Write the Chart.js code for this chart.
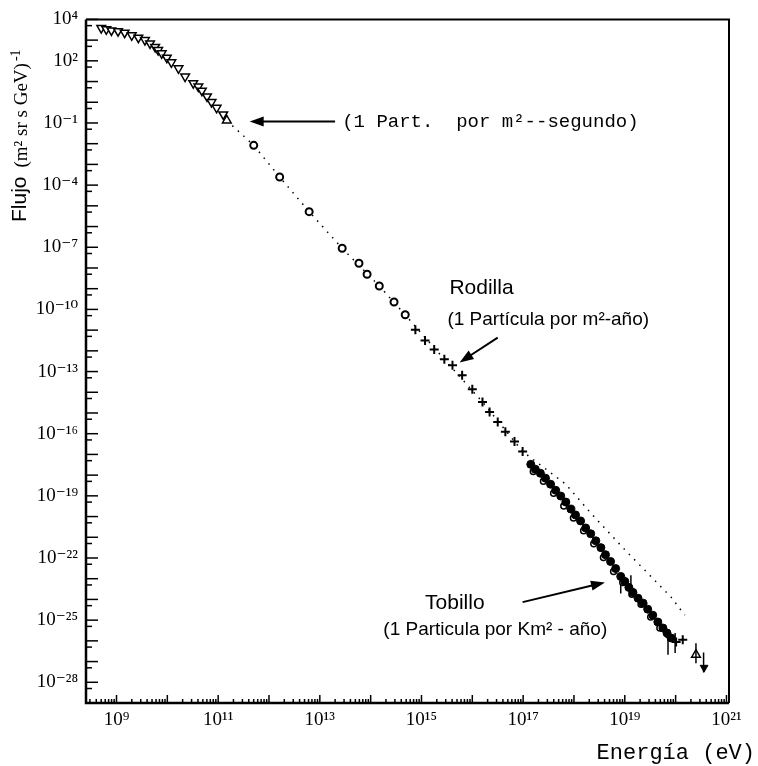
<!DOCTYPE html>
<html>
<head>
<meta charset="utf-8">
<script src="https://cdn.jsdelivr.net/npm/chart.js@4.4.0/dist/chart.umd.min.js"></script>
<style>
  html, body { margin: 0; padding: 0; background: #fff; }
  #wrap { width: 758px; height: 766px; }
</style>
</head>
<body>
<div id="wrap"><canvas id="espectro" width="758" height="766"></canvas></div>
<script>
// Valores, en log10: energia (eV) y flujo
const triLogE = [8.70, 8.80, 8.90, 9.03, 9.16, 9.30, 9.43, 9.56, 9.66, 9.76, 9.82, 9.89,
                 9.99, 10.08, 10.22, 10.35, 10.51, 10.61, 10.68, 10.78, 10.87, 10.97, 11.10, 11.17];
const triLogF = [3.58, 3.52, 3.47, 3.43, 3.36, 3.23, 3.12, 3.00, 2.84, 2.67, 2.52, 2.36,
                 2.15, 1.93, 1.64, 1.24, 0.92, 0.76, 0.56, 0.28, 0.01, -0.27, -0.59, -0.88];

const circLogE = [11.70, 12.21, 12.79, 13.44, 13.77, 13.93, 14.17, 14.46, 14.68];
const circLogF = [-2.08, -3.61, -5.28, -7.05, -7.77, -8.30, -8.87, -9.64, -10.26];

const cruzLogE = [14.88, 15.07, 15.25, 15.45, 15.61, 15.80, 16.00, 16.20, 16.34, 16.50, 16.65, 16.83, 16.99];
const cruzLogF = [-10.98, -11.50, -11.93, -12.41, -12.70, -13.18, -13.85, -14.47, -14.95, -15.43, -15.90, -16.38, -16.86];

// banda densa de altas energias
const bandaLogE = [17.15, 17.24, 17.34, 17.44, 17.54, 17.64, 17.74, 17.84, 17.94, 18.03,
                   18.13, 18.23, 18.33, 18.43, 18.53, 18.62, 18.72, 18.82, 18.92, 19.00,
                   19.08, 19.16, 19.26, 19.36, 19.45, 19.55, 19.65, 19.75, 19.83, 19.91];
const bandaLogF = [-17.48, -17.72, -17.91, -18.15, -18.44, -18.73, -19.01, -19.30, -19.64, -19.92,
                   -20.21, -20.55, -20.83, -21.17, -21.50, -21.84, -22.17, -22.51, -22.89, -23.13,
                   -23.42, -23.66, -23.94, -24.18, -24.47, -24.76, -25.09, -25.38, -25.62, -25.86];
const abiertoLogE = [17.20, 17.40, 17.60, 17.80, 17.99, 18.19, 18.39, 18.58, 18.78, 18.96, 19.14, 19.32, 19.51, 19.69];
const abiertoLogF = [-17.82, -18.30, -18.87, -19.49, -20.07, -20.69, -21.31, -21.98, -22.65, -23.18, -23.75, -24.23, -24.85, -25.38];

const finLogE = [19.89, 20.01, 20.14];
const finLogF = [-25.81, -26.05, -25.95];

// barras de error
const errLogE = [18.92, 19.12, 19.85, 19.99, 20.40, 20.55];
const errLogF = [-23.23, -23.32, -26.19, -26.10, -26.60, -27.05];

const altoLogE = [20.40];
const altoLogF = [-26.67];
const limiteLogE = [20.56];
const limiteLogF = [-27.29];

// linea punteada
const ajusteLogE = [11.17, 11.70, 12.21, 12.79, 13.44, 14.17, 14.68, 15.45, 16.20, 16.99, 17.84, 18.33, 19.00, 19.91, 20.18];
const ajusteLogF = [-0.88, -2.08, -3.61, -5.28, -7.05, -8.87, -10.26, -12.41, -14.47, -16.86, -18.44, -19.83, -21.60, -23.89, -24.76];

// etiquetas de los ejes (exponentes)
const xEtiquetas = [9, 11, 13, 15, 17, 19, 21];
const yEtiquetas = [4, 2, -1, -4, -7, -10, -13, -16, -19, -22, -25, -28];
const xRango = [8.4, 21.05];
const yRango = [-29, 4];

const SUP = { '0': '⁰', '1': '¹', '2': '²', '3': '³', '4': '⁴', '5': '⁵', '6': '⁶', '7': '⁷', '8': '⁸', '9': '⁹', '-': '⁻' };
function potencia(e) {
    return '10' + String(e).split('').map(c => SUP[c]).join('');
}

function puntos(es, fs) {
    return es.map((e, i) => ({ x: Math.pow(10, e), y: Math.pow(10, fs[i]) }));
}

function esDecada(v) {
    const l = Math.log10(v);
    return Math.abs(l - Math.round(l)) < 1e-6;
}

// marcas de los ejes hacia dentro + marco
const marco = {
    id: 'marco',
    afterDraw(chart) {
        const { ctx, chartArea: a, scales: { x, y } } = chart;
        ctx.save();
        ctx.strokeStyle = '#000';
        ctx.lineWidth = 1.5;
        x.ticks.forEach(t => {
            const p = x.getPixelForValue(t.value);
            const largo = esDecada(t.value) ? 8 : 4;
            ctx.beginPath();
            ctx.moveTo(p, a.bottom);
            ctx.lineTo(p, a.bottom - largo);
            ctx.stroke();
        });
        y.ticks.forEach(t => {
            const p = y.getPixelForValue(t.value);
            const largo = esDecada(t.value) ? 12 : 6;
            ctx.beginPath();
            ctx.moveTo(a.left, p);
            ctx.lineTo(a.left + largo, p);
            ctx.stroke();
        });
        ctx.lineWidth = 2.5;
        ctx.beginPath();
        ctx.moveTo(a.left, a.top);
        ctx.lineTo(a.left, a.bottom);
        ctx.lineTo(a.right, a.bottom);
        ctx.stroke();
        ctx.lineWidth = 2;
        ctx.beginPath();
        ctx.moveTo(a.left, a.top);
        ctx.lineTo(a.right, a.top);
        ctx.lineTo(a.right, a.bottom);
        ctx.stroke();
        ctx.restore();
    }
};

function flecha(ctx, x1, y1, x2, y2) {
    const ang = Math.atan2(y2 - y1, x2 - x1);
    ctx.beginPath();
    ctx.moveTo(x1, y1);
    ctx.lineTo(x2 - 10 * Math.cos(ang), y2 - 10 * Math.sin(ang));
    ctx.stroke();
    ctx.beginPath();
    ctx.moveTo(x2, y2);
    ctx.lineTo(x2 - 14 * Math.cos(ang) + 5 * Math.sin(ang), y2 - 14 * Math.sin(ang) - 5 * Math.cos(ang));
    ctx.lineTo(x2 - 14 * Math.cos(ang) - 5 * Math.sin(ang), y2 - 14 * Math.sin(ang) + 5 * Math.cos(ang));
    ctx.closePath();
    ctx.fill();
}

// textos, flechas y titulos
const anotaciones = {
    id: 'anotaciones',
    afterDraw(chart) {
        const { ctx, scales: { x, y } } = chart;
        const px = e => x.getPixelForValue(Math.pow(10, e));
        const py = f => y.getPixelForValue(Math.pow(10, f));
        ctx.save();
        ctx.fillStyle = '#000';
        ctx.strokeStyle = '#000';
        ctx.lineWidth = 2;
        ctx.textBaseline = 'middle';
        ctx.textAlign = 'left';

        flecha(ctx, px(13.30), py(-0.93), px(11.62), py(-0.93));
        ctx.font = '19px "Liberation Mono", "DejaVu Sans Mono", monospace';
        ctx.fillText('(1 Part.  por m²--segundo)', px(13.44), py(-0.93));

        ctx.font = '21px "Liberation Sans", Arial, sans-serif';
        ctx.fillText('Rodilla', px(15.55), py(-8.97));
        ctx.font = '19px "Liberation Sans", Arial, sans-serif';
        ctx.fillText('(1 Partícula por m²-año)', px(15.51), py(-10.50));
        flecha(ctx, px(16.50), py(-11.36), px(15.75), py(-12.56));

        ctx.font = '21px "Liberation Sans", Arial, sans-serif';
        ctx.fillText('Tobillo', px(15.07), py(-24.18));
        ctx.font = '19px "Liberation Sans", Arial, sans-serif';
        ctx.fillText('(1 Particula por Km² - año)', px(14.25), py(-25.47));
        flecha(ctx, px(16.99), py(-24.13), px(18.61), py(-23.18));

        // titulo eje x
        ctx.font = '22px "Liberation Mono", "DejaVu Sans Mono", monospace';
        ctx.textAlign = 'right';
        ctx.fillText('Energía (eV)', 755, 753);

        // titulo eje y
        ctx.translate(20, 222);
        ctx.rotate(-Math.PI / 2);
        ctx.textAlign = 'left';
        ctx.font = '21px "Liberation Sans", Arial, sans-serif';
        ctx.fillText('Flujo', 0, 0);
        let w = ctx.measureText('Flujo').width + 9;
        ctx.font = '19px "Liberation Serif", "DejaVu Serif", serif';
        ctx.fillText('(m² sr s GeV)', w, 2);
        w += ctx.measureText('(m² sr s GeV)').width + 2;
        ctx.font = '14px "Liberation Serif", "DejaVu Serif", serif';
        ctx.fillText('-1', w, -4);
        ctx.restore();
    }
};

const datasets = [
    {
        label: 'Ajuste',
        data: puntos(ajusteLogE, ajusteLogF),
        showLine: true,
        borderColor: '#000',
        borderWidth: 1.5,
        borderDash: [1.5, 6],
        pointRadius: 0,
        order: 10
    },
    {
        label: 'Medidas directas',
        data: puntos(triLogE, triLogF),
        pointStyle: 'triangle',
        rotation: ctx => ctx.dataIndex === triLogE.length - 1 ? 0 : 180,
        pointRadius: 5,
        borderWidth: 1.5,
        borderColor: '#000',
        backgroundColor: '#fff'
    },
    {
        label: 'Circulos',
        data: puntos(circLogE, circLogF),
        pointStyle: 'circle',
        pointRadius: 3.5,
        borderWidth: 2,
        borderColor: '#000',
        backgroundColor: '#fff'
    },
    {
        label: 'Cruces',
        data: puntos(cruzLogE, cruzLogF).concat(puntos(finLogE, finLogF)),
        pointStyle: 'cross',
        pointRadius: 4.5,
        borderWidth: 2,
        borderColor: '#000'
    },
    {
        label: 'Banda',
        data: puntos(bandaLogE, bandaLogF),
        pointStyle: 'circle',
        pointRadius: 4,
        borderWidth: 1,
        borderColor: '#000',
        backgroundColor: '#000'
    },
    {
        label: 'Banda abiertos',
        data: puntos(abiertoLogE, abiertoLogF),
        pointStyle: 'circle',
        pointRadius: 3,
        borderWidth: 1.5,
        borderColor: '#000',
        backgroundColor: '#fff'
    },
    {
        label: 'Errores',
        data: puntos(errLogE, errLogF),
        pointStyle: 'line',
        rotation: 90,
        pointRadius: 10,
        borderWidth: 1.5,
        borderColor: '#000'
    },
    {
        label: 'Alto',
        data: puntos(altoLogE, altoLogF),
        pointStyle: 'triangle',
        pointRadius: 5,
        borderWidth: 1.5,
        borderColor: '#000',
        backgroundColor: '#fff'
    },
    {
        label: 'Limite',
        data: puntos(limiteLogE, limiteLogF),
        pointStyle: 'triangle',
        rotation: 180,
        pointRadius: 4.5,
        borderWidth: 1,
        borderColor: '#000',
        backgroundColor: '#000'
    }
];

const xTicks = [];
for (let n = 8; n <= 21; n++) {
    for (let d = 1; d <= 9; d++) {
        const v = d * Math.pow(10, n);
        if (Math.log10(v) >= xRango[0] && Math.log10(v) <= xRango[1]) xTicks.push(v);
    }
}
const yTicks = [];
for (let n = yRango[0]; n <= yRango[1]; n++) {
    yTicks.push(Math.pow(10, n));
    if (n < yRango[1]) yTicks.push(5 * Math.pow(10, n));
}

const fuenteEje = { family: '"Liberation Serif", "DejaVu Serif", serif', size: 19 };

new Chart(document.getElementById('espectro'), {
    type: 'scatter',
    data: { datasets: datasets },
    options: {
        responsive: false,
        animation: false,
        devicePixelRatio: 1,
        layout: { padding: { left: 0, top: 14, right: 29, bottom: 0 } },
        plugins: {
            legend: { display: false },
            tooltip: { enabled: false }
        },
        scales: {
            x: {
                type: 'logarithmic',
                min: Math.pow(10, xRango[0]),
                max: Math.pow(10, xRango[1]),
                grid: { display: false, drawTicks: false },
                border: { display: false },
                afterBuildTicks: s => { s.ticks = xTicks.map(v => ({ value: v })); },
                afterFit: s => { s.height = 63; },
                ticks: {
                    autoSkip: false,
                    maxRotation: 0,
                    padding: 6,
                    color: '#000',
                    font: fuenteEje,
                    callback: v => {
                        if (!esDecada(v)) return '';
                        const e = Math.round(Math.log10(v));
                        return xEtiquetas.includes(e) ? potencia(e) : '';
                    }
                }
            },
            y: {
                type: 'logarithmic',
                min: Math.pow(10, yRango[0]),
                max: Math.pow(10, yRango[1]),
                grid: { display: false, drawTicks: false },
                border: { display: false },
                afterBuildTicks: s => { s.ticks = yTicks.map(v => ({ value: v })); },
                afterFit: s => { s.width = 86; },
                ticks: {
                    autoSkip: false,
                    padding: 8,
                    color: '#000',
                    font: fuenteEje,
                    callback: v => {
                        if (!esDecada(v)) return '';
                        const e = Math.round(Math.log10(v));
                        return yEtiquetas.includes(e) ? potencia(e) : '';
                    }
                }
            }
        }
    },
    plugins: [marco, anotaciones]
});
</script>
</body>
</html>
